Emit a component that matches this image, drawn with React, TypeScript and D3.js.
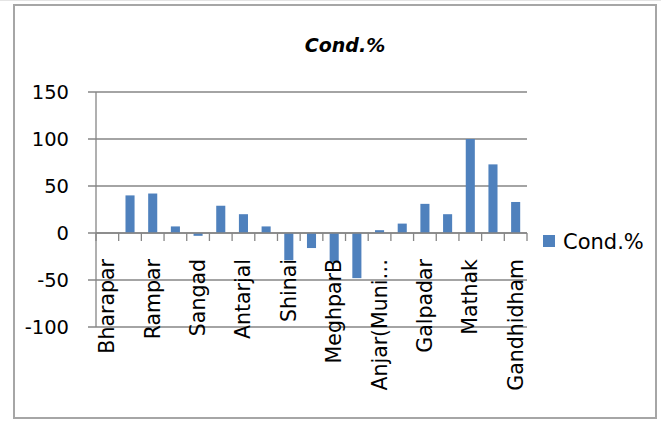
import * as d3 from "d3";

// values per station (19 categories, labels shown on every other one)
const values = [0, 40, 42, 7, -3, 29, 20, 7, -29, -16, -31, -48, 3, 10, 31, 20, 100, 73, 33];
const tickLabels = ["Bharapar", "Rampar", "Sangad", "Antarjal", "Shinai", "MeghparB", "Anjar(Muni…", "Galpadar", "Mathak", "Gandhidham"];
const yTicks = [-100, -50, 0, 50, 100, 150];
const seriesName = "Cond.%";

const W = 661;
const H = 421;
const PLOT = { left: 96, right: 527, top: 92, bottom: 327 };
const FONT = "'DejaVu Sans', sans-serif";
const GRID = "#868686";
const BAR = "#4F81BD";

export default function App() {
    const xScale = d3
        .scaleBand<number>()
        .domain(d3.range(values.length))
        .range([PLOT.left, PLOT.right])
        .paddingInner(0);
    const yScale = d3.scaleLinear().domain([-100, 150]).range([PLOT.bottom, PLOT.top]);

    const bw = xScale.bandwidth();
    const barW = bw * 0.4;
    const y0 = yScale(0);

    const bars = values.map((v, i) => {
        const cx = (xScale(i) ?? 0) + bw / 2;
        return (
            <rect
                key={i}
                x={cx - barW / 2}
                y={Math.min(yScale(v), y0)}
                width={barW}
                height={Math.abs(yScale(v) - y0)}
                fill={BAR}
            />
        );
    });

    const boundaries = d3.range(values.length + 1).map((i) =>
        i < values.length ? xScale(i) ?? 0 : PLOT.right
    );

    return (
        <svg width={W} height={H} style={{ position: "absolute", left: 0, top: 0 }}>
            <rect x={0} y={0} width={W} height={H} fill="white" />
            <line x1={0} x2={W} y1={0.5} y2={0.5} stroke="#e4e4e4" />
            <rect x={14} y={5} width={642} height={413} fill="white" stroke="#a6a6a6" strokeWidth={2} />

            <text x={345} y={52} textAnchor="middle" fontFamily={FONT} fontSize={19} fontWeight="bold" fontStyle="italic">
                {seriesName}
            </text>

            {/* gridlines and y ticks */}
            {yTicks.map((t) => (
                <g key={t}>
                    <line x1={PLOT.left - 8} x2={PLOT.right} y1={yScale(t)} y2={yScale(t)} stroke={GRID} strokeWidth={1.3} />
                    <text x={69} y={yScale(t)} textAnchor="end" dominantBaseline="central" fontFamily={FONT} fontSize={19.5}>
                        {t}
                    </text>
                </g>
            ))}
            <line x1={PLOT.left} x2={PLOT.left} y1={PLOT.top} y2={PLOT.bottom} stroke={GRID} strokeWidth={1.3} />

            {bars}

            {/* category axis at zero */}
            <line x1={PLOT.left} x2={PLOT.right} y1={y0} y2={y0} stroke={GRID} strokeWidth={1.3} />
            {boundaries.map((bx, i) => (
                <line key={i} x1={bx} x2={bx} y1={y0} y2={y0 + 8} stroke={GRID} strokeWidth={1.3} />
            ))}
            {tickLabels.map((lab, j) => {
                const cx = (xScale(j * 2) ?? 0) + bw / 2;
                return (
                    <text
                        key={lab}
                        transform={`translate(${cx},259) rotate(-90)`}
                        textAnchor="end"
                        dominantBaseline="central"
                        fontFamily={FONT}
                        fontSize={20.5}
                    >
                        {lab}
                    </text>
                );
            })}

            {/* legend */}
            <rect x={543} y={235} width={12} height={12} fill={BAR} />
            <text x={563} y={242} dominantBaseline="central" fontFamily={FONT} fontSize={21}>
                {seriesName}
            </text>
        </svg>
    );
}
